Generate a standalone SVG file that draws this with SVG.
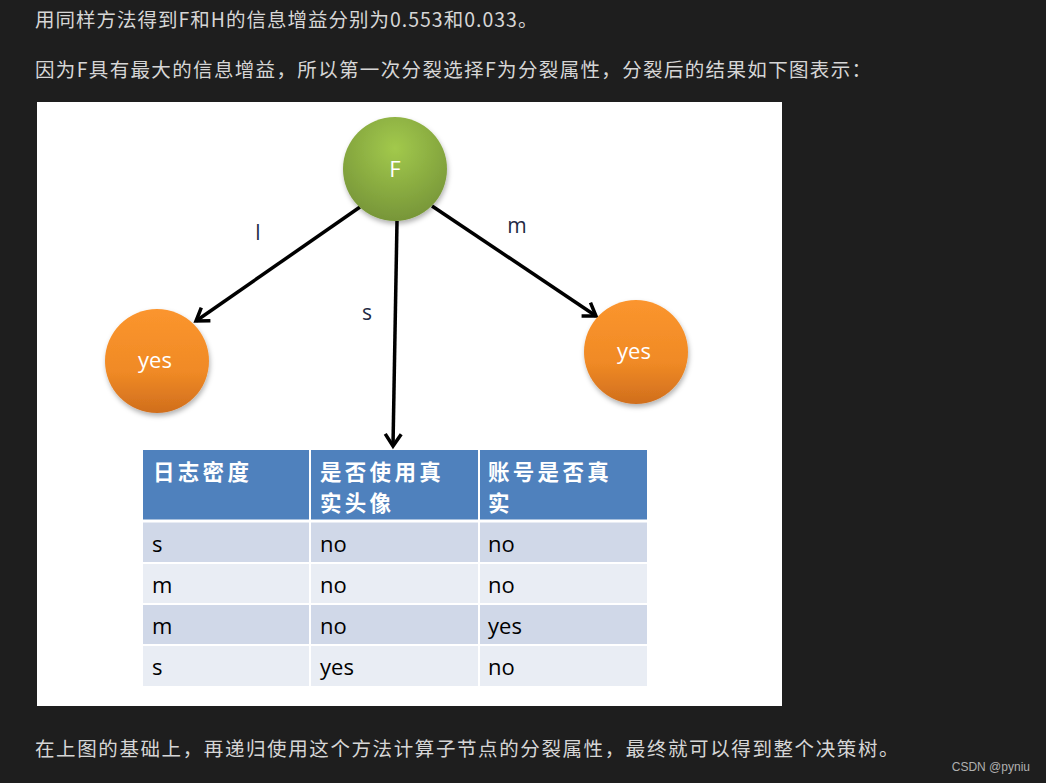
<svg xmlns="http://www.w3.org/2000/svg" width="1046" height="783" viewBox="0 0 1046 783">
<style>
.para{font-family:"Noto Sans CJK SC","Microsoft YaHei",sans-serif;font-size:19.5px;letter-spacing:1px;fill:#d6d6d6}
.nl{font-family:"Open Sans","Liberation Sans",sans-serif;font-size:22px;fill:#fff;text-anchor:middle}
.el{font-family:"Open Sans","Liberation Sans",sans-serif;font-size:21px;fill:#1f2a44;text-anchor:middle}
.th{font-family:"Noto Sans CJK SC",sans-serif;font-size:21.5px;letter-spacing:3.3px;font-weight:bold;fill:#fff}
.td{font-family:"Open Sans","Liberation Sans",sans-serif;font-size:22px;fill:#000}
.edge{stroke:#000;stroke-width:3.5;fill:none}
</style>
<defs>
<radialGradient id="gG" cx="0.5" cy="0.3" r="0.75">
<stop offset="0" stop-color="#a2c94c"/><stop offset="1" stop-color="#749237"/>
</radialGradient>
<linearGradient id="gO" x1="0" y1="0" x2="0" y2="1">
<stop offset="0" stop-color="#fb952e"/><stop offset="0.6" stop-color="#f08a25"/><stop offset="1" stop-color="#d06e1d"/>
</linearGradient>
<marker id="ah" markerWidth="10" markerHeight="10" refX="8" refY="5" orient="auto" markerUnits="userSpaceOnUse" viewBox="0 0 10 10" overflow="visible">
<path d="M-4,-3 L8,5 L-4,13" fill="none" stroke="#000" stroke-width="3.5"/>
</marker>
<filter id="sh" x="-20%" y="-20%" width="140%" height="150%">
<feDropShadow dx="1" dy="3" stdDeviation="2.5" flood-color="#000" flood-opacity="0.3"/>
</filter>
</defs>
<rect width="1046" height="783" fill="#1e1e1e"/>
<text class="para" x="35" y="27">用同样方法得到F和H的信息增益分别为0.553和0.033。</text>
<text class="para" x="35" y="77" style="letter-spacing:1.35px">因为F具有最大的信息增益，所以第一次分裂选择F为分裂属性，分裂后的结果如下图表示：</text>
<rect x="37" y="102" width="745" height="604" fill="#fff"/>
<g id="edges">
<line class="edge" x1="360" y1="207" x2="196" y2="321" marker-end="url(#ah)"/>
<line class="edge" x1="397" y1="221" x2="393" y2="446" marker-end="url(#ah)"/>
<line class="edge" x1="432" y1="206" x2="596" y2="316" marker-end="url(#ah)"/>
<text class="el" x="258" y="240">l</text>
<text class="el" x="367" y="320">s</text>
<text class="el" x="517" y="233">m</text>
</g>
<g id="nodeF">
<circle cx="395" cy="169" r="52" fill="url(#gG)" filter="url(#sh)"/>
<text class="nl" x="395" y="177">F</text>
</g>
<g id="nodeYesL">
<circle cx="157" cy="361" r="52" fill="url(#gO)" filter="url(#sh)"/>
<text class="nl" x="155" y="368">yes</text>
</g>
<g id="nodeYesR">
<circle cx="636" cy="352" r="52" fill="url(#gO)" filter="url(#sh)"/>
<text class="nl" x="634" y="359">yes</text>
</g>
<g id="table">
<rect x="143" y="450" width="504" height="71" fill="#4f81bd"/>
<rect x="143" y="521" width="504" height="42" fill="#d0d8e8"/>
<rect x="143" y="563" width="504" height="41" fill="#e9edf4"/>
<rect x="143" y="604" width="504" height="41" fill="#d0d8e8"/>
<rect x="143" y="645" width="504" height="41" fill="#e9edf4"/>
<g stroke="#fff" stroke-width="2">
<line x1="310" y1="450" x2="310" y2="686"/>
<line x1="479" y1="450" x2="479" y2="686"/>
<line x1="143" y1="521" x2="647" y2="521" stroke-width="3"/>
<line x1="143" y1="563" x2="647" y2="563"/>
<line x1="143" y1="604" x2="647" y2="604"/>
<line x1="143" y1="645" x2="647" y2="645"/>
</g>
<text class="th" x="153" y="480">日志密度</text>
<text class="th" x="320" y="480">是否使用真</text>
<text class="th" x="320" y="511">实头像</text>
<text class="th" x="488" y="480">账号是否真</text>
<text class="th" x="488" y="511">实</text>
<text class="td" x="152" y="552">s</text><text class="td" x="320" y="552">no</text><text class="td" x="488" y="552">no</text>
<text class="td" x="152" y="593">m</text><text class="td" x="320" y="593">no</text><text class="td" x="488" y="593">no</text>
<text class="td" x="152" y="634">m</text><text class="td" x="320" y="634">no</text><text class="td" x="488" y="634">yes</text>
<text class="td" x="152" y="675">s</text><text class="td" x="320" y="675">yes</text><text class="td" x="488" y="675">no</text>
</g>
<text class="para" x="35" y="756" style="letter-spacing:1.6px">在上图的基础上，再递归使用这个方法计算子节点的分裂属性，最终就可以得到整个决策树。</text>
<text x="1030" y="771" font-family="Liberation Sans, sans-serif" font-size="12" fill="#b0b0b0" text-anchor="end">CSDN @pyniu</text>
</svg>
